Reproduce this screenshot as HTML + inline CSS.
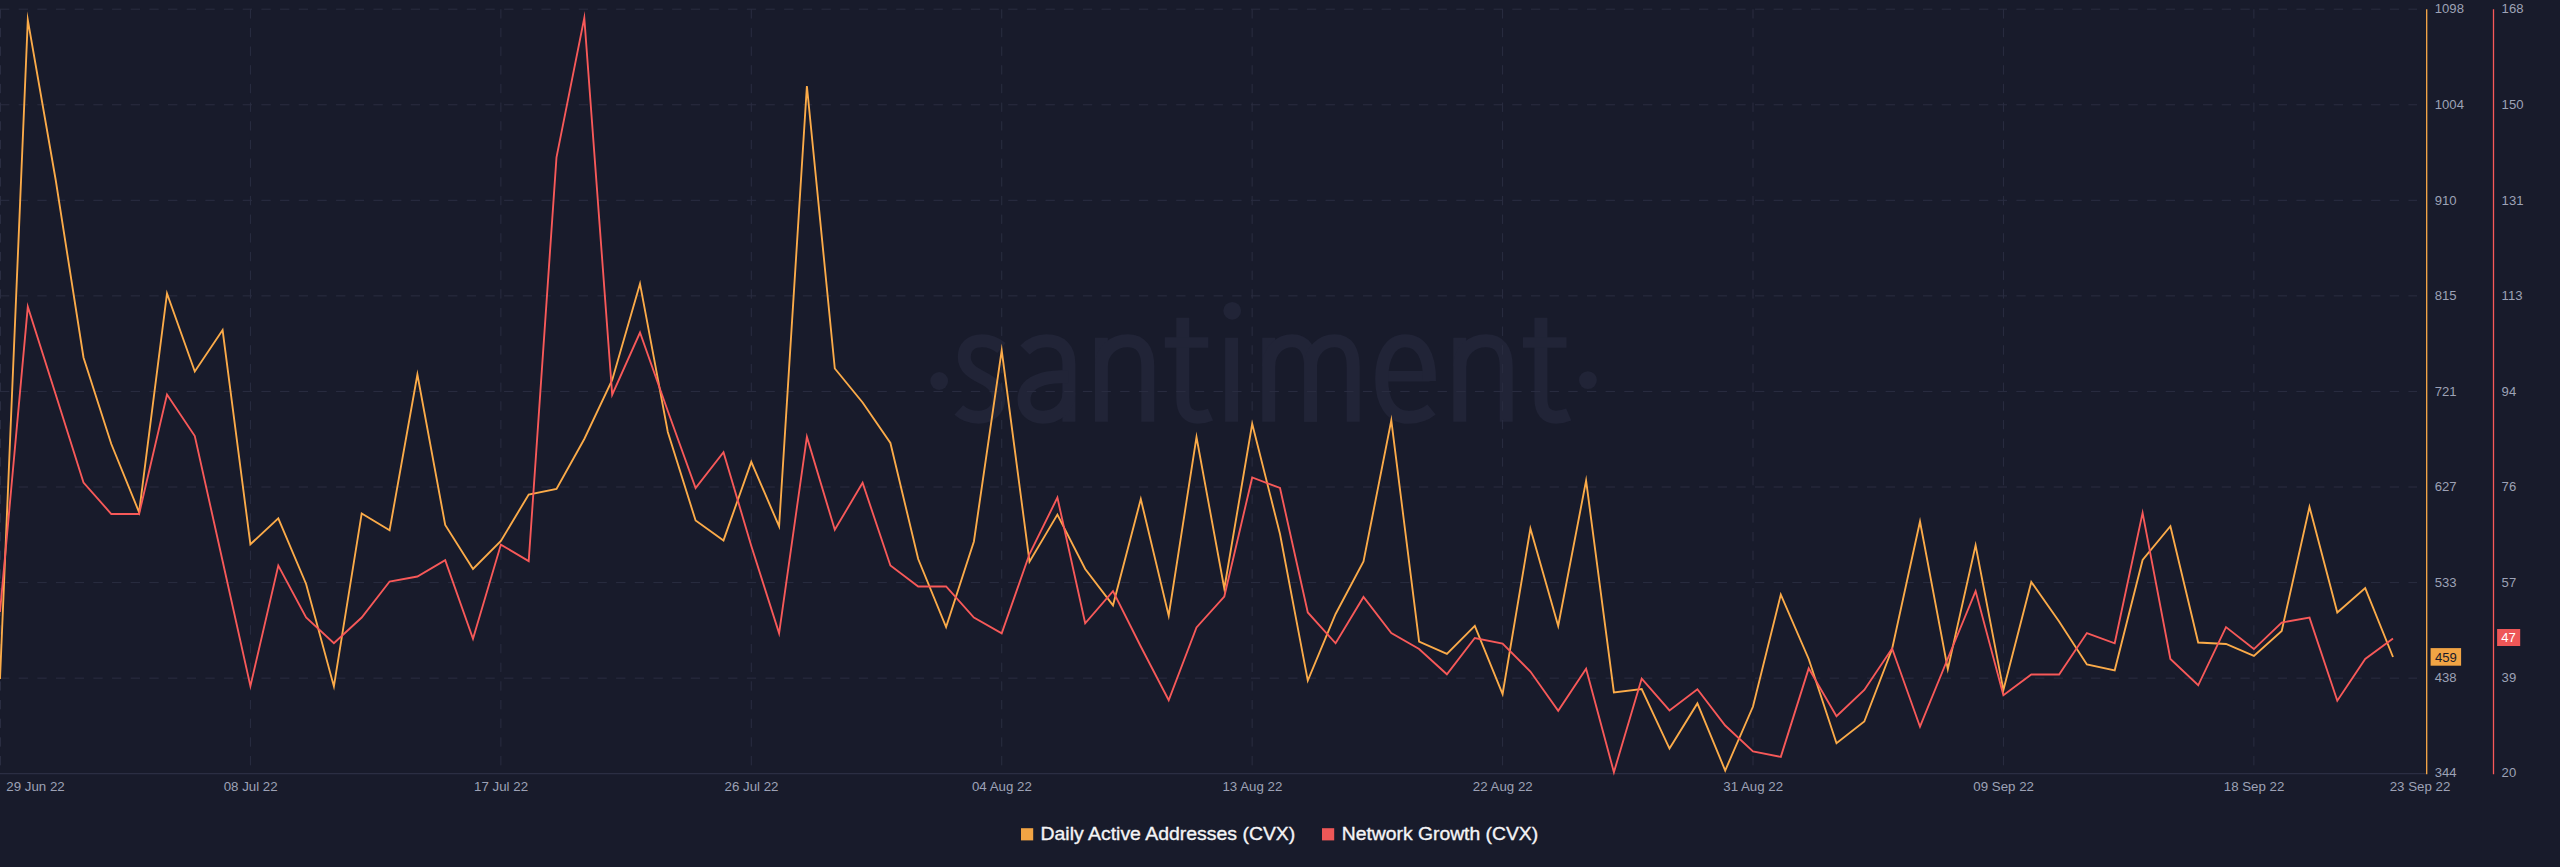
<!DOCTYPE html><html><head><meta charset="utf-8"><title>Santiment chart</title>
<style>html,body{margin:0;padding:0;background:#181b2b;}body{width:2560px;height:867px;overflow:hidden;}svg{display:block;}text{font-family:"Liberation Sans",sans-serif;}</style></head><body>
<svg width="2560" height="867" viewBox="0 0 2560 867">
<rect x="0" y="0" width="2560" height="867" fill="#181b2b"/>
<g id="wm" fill="none" stroke="#212437" stroke-width="13" stroke-linecap="butt" stroke-linejoin="round">
<path d="M1001.5,348 C996,343.5 990,340.75 982,340.75 C971,340.75 964.3,347 964.3,357 C964.3,368 973,373 982,377.5 C992,382.5 998.7,388 998.7,399 C998.7,410 990,417.2 978.5,417.2 C970.5,417.2 963.5,414.2 958.8,410"/>
<path d="M1025,350 C1030.5,344.5 1038,340.75 1046.5,340.75 C1061,340.75 1068.9,349 1068.9,364 V421.7"/>
<path d="M1068.9,376.5 C1058,376.5 1050,377 1043,379 C1031,382.5 1024,389 1024,399.5 C1024,410.5 1032,417.2 1043,417.2 C1056,417.2 1068.9,408 1068.9,393"/>
<path d="M1101.4,421.7 V337.8"/><path d="M1101.4,366 C1101.4,351 1113.5,340.75 1127.4,340.75 C1141.3,340.75 1147.8,350 1147.8,367 V421.7"/>
<path d="M1182.8,317.8 V398 C1182.8,412 1188.8,417.2 1197.8,417.2 C1202.2,417.2 1206.8,416.2 1210.5,414.6"/><path d="M1164.8,342.5 H1208.3" stroke-width="10.4"/>
<path d="M1231.6,337.8 V421.7"/>
<path d="M1268.7,421.7 V337.8"/><path d="M1268.7,366 C1268.7,351 1279.6,340.75 1292.2,340.75 C1304.7,340.75 1310.6,350 1310.6,367 V421.7"/>
<path d="M1310.6,366 C1310.6,351 1321.7,340.75 1334.5,340.75 C1347.2,340.75 1353.2,350 1353.2,367 V421.7"/>
<path d="M1310.6,421.7 V362"/>
<path d="M1381.7,376.2 H1429.5" stroke-width="10.5"/>
<path d="M1429.5,381 C1429.8,355 1421,340.75 1405,340.75 C1390,340.75 1381.7,357 1381.7,379 C1381.7,402 1391,417.25 1408.5,417.25 C1418,417.25 1426,414 1431.5,409.5"/>
<path d="M1459.8,421.7 V337.8"/><path d="M1459.8,366 C1459.8,351 1471.9,340.75 1485.8,340.75 C1499.7,340.75 1506.2,350 1506.2,367 V421.7"/>
<path d="M1540.9,317.8 V398 C1540.9,412 1546.9,417.2 1555.9,417.2 C1560.4,417.2 1564.9,416.2 1568.7,414.6"/><path d="M1522.9,342.5 H1566.5" stroke-width="10.4"/>
</g>
<g fill="#212437"><circle cx="939.2" cy="381" r="8.9"/><circle cx="1232.2" cy="310.8" r="8.9"/><circle cx="1587.9" cy="380.1" r="8.9"/></g>
<g stroke="#2a2d41" stroke-width="1" stroke-dasharray="9.335 9.335" fill="none">
<line x1="0" y1="9.20" x2="2417" y2="9.20"/>
<line x1="0" y1="104.76" x2="2417" y2="104.76"/>
<line x1="0" y1="200.32" x2="2417" y2="200.32"/>
<line x1="0" y1="295.89" x2="2417" y2="295.89"/>
<line x1="0" y1="391.45" x2="2417" y2="391.45"/>
<line x1="0" y1="487.01" x2="2417" y2="487.01"/>
<line x1="0" y1="582.58" x2="2417" y2="582.58"/>
<line x1="0" y1="678.14" x2="2417" y2="678.14"/>
<line x1="0.50" y1="9.20" x2="0.50" y2="773.70"/>
<line x1="250.43" y1="9.20" x2="250.43" y2="773.70"/>
<line x1="500.86" y1="9.20" x2="500.86" y2="773.70"/>
<line x1="751.29" y1="9.20" x2="751.29" y2="773.70"/>
<line x1="1001.72" y1="9.20" x2="1001.72" y2="773.70"/>
<line x1="1252.15" y1="9.20" x2="1252.15" y2="773.70"/>
<line x1="1502.58" y1="9.20" x2="1502.58" y2="773.70"/>
<line x1="1753.01" y1="9.20" x2="1753.01" y2="773.70"/>
<line x1="2003.44" y1="9.20" x2="2003.44" y2="773.70"/>
<line x1="2253.87" y1="9.20" x2="2253.87" y2="773.70"/>
</g>
<line x1="0" y1="773.7" x2="2426" y2="773.7" stroke="#2b2e43" stroke-width="1.2"/>
<polyline points="0.0,679.0 27.8,19.9 55.7,180.0 83.5,357.5 111.3,444.0 139.1,512.3 167.0,293.4 194.8,371.5 222.6,330.1 250.4,544.3 278.3,518.4 306.1,584.0 333.9,686.4 361.7,513.4 389.6,530.3 417.4,374.6 445.2,525.0 473.0,568.9 500.9,541.0 528.7,494.5 556.5,489.0 584.3,439.0 612.2,380.0 640.0,283.7 667.8,432.0 695.6,520.5 723.5,540.4 751.3,461.9 779.1,526.4 806.9,86.0 834.8,368.5 862.6,402.5 890.4,443.0 918.2,559.0 946.1,627.0 973.9,541.5 1001.7,350.4 1029.5,561.7 1057.4,514.6 1085.2,569.0 1113.0,605.3 1140.8,499.1 1168.7,615.7 1196.5,437.2 1224.3,588.5 1252.2,423.8 1280.0,534.0 1307.8,680.6 1335.6,614.0 1363.5,561.5 1391.3,420.4 1419.1,641.5 1446.9,653.9 1474.8,625.9 1502.6,694.0 1530.4,528.6 1558.2,626.0 1586.1,480.6 1613.9,692.4 1641.7,689.1 1669.5,748.6 1697.4,703.4 1725.2,770.5 1753.0,706.5 1780.8,594.6 1808.7,659.0 1836.5,743.3 1864.3,721.5 1892.1,649.0 1920.0,521.5 1947.8,669.1 1975.6,545.3 2003.4,690.1 2031.3,582.0 2059.1,621.5 2086.9,664.5 2114.7,670.3 2142.6,560.0 2170.4,526.2 2198.2,642.5 2226.0,644.0 2253.9,655.9 2281.7,631.0 2309.5,506.9 2337.3,612.5 2365.2,588.1 2393.0,657.0" fill="none" stroke="#fbab49" stroke-width="1.87" stroke-linejoin="miter" stroke-miterlimit="10"/>
<polyline points="0.0,612.0 27.8,306.8 55.7,394.5 83.5,482.5 111.3,514.0 139.1,514.0 167.0,394.6 194.8,436.0 222.6,561.0 250.4,686.1 278.3,565.6 306.1,617.5 333.9,643.3 361.7,617.5 389.6,581.5 417.4,576.5 445.2,560.1 473.0,638.8 500.9,544.6 528.7,561.1 556.5,157.3 584.3,17.9 612.2,394.7 640.0,332.5 667.8,411.0 695.6,488.1 723.5,452.2 751.3,546.0 779.1,633.4 806.9,436.9 834.8,529.8 862.6,482.8 890.4,565.5 918.2,586.5 946.1,586.5 973.9,617.5 1001.7,633.4 1029.5,554.0 1057.4,497.6 1085.2,623.3 1113.0,591.1 1140.8,646.5 1168.7,700.3 1196.5,627.5 1224.3,596.5 1252.2,477.5 1280.0,488.0 1307.8,612.5 1335.6,643.3 1363.5,596.9 1391.3,633.0 1419.1,649.0 1446.9,674.3 1474.8,638.0 1502.6,643.5 1530.4,671.5 1558.2,710.8 1586.1,668.8 1613.9,772.2 1641.7,678.6 1669.5,710.4 1697.4,689.2 1725.2,725.5 1753.0,751.5 1780.8,756.9 1808.7,668.4 1836.5,716.2 1864.3,690.0 1892.1,648.5 1920.0,726.7 1947.8,658.5 1975.6,591.1 2003.4,695.3 2031.3,674.5 2059.1,674.5 2086.9,633.1 2114.7,643.3 2142.6,512.9 2170.4,659.0 2198.2,685.3 2226.0,627.1 2253.9,649.1 2281.7,622.5 2309.5,617.6 2337.3,700.7 2365.2,659.0 2393.0,638.5" fill="none" stroke="#f75959" stroke-width="1.87" stroke-linejoin="miter" stroke-miterlimit="10"/>
<line x1="2426.7" y1="9.20" x2="2426.7" y2="774.2" stroke="#fbab49" stroke-width="1.3"/>
<line x1="2493.5" y1="9.20" x2="2493.5" y2="774.2" stroke="#f75959" stroke-width="1.3"/>
<g fill="#9da2b6" font-size="13.1">
<text x="2434.8" y="13.45">1098</text>
<text x="2434.8" y="109.01">1004</text>
<text x="2434.8" y="204.57">910</text>
<text x="2434.8" y="300.14">815</text>
<text x="2434.8" y="395.70">721</text>
<text x="2434.8" y="491.26">627</text>
<text x="2434.8" y="586.83">533</text>
<text x="2434.8" y="682.39">438</text>
<text x="2434.8" y="777.05">344</text>
<text x="2501.6" y="13.45">168</text>
<text x="2501.6" y="109.01">150</text>
<text x="2501.6" y="204.57">131</text>
<text x="2501.6" y="300.14">113</text>
<text x="2501.6" y="395.70">94</text>
<text x="2501.6" y="491.26">76</text>
<text x="2501.6" y="586.83">57</text>
<text x="2501.6" y="682.39">39</text>
<text x="2501.6" y="777.05">20</text>
<text x="6.3" y="790.9" font-size="13.3">29 Jun 22</text>
<text x="250.63" y="790.9" font-size="13.3" text-anchor="middle">08 Jul 22</text>
<text x="501.06" y="790.9" font-size="13.3" text-anchor="middle">17 Jul 22</text>
<text x="751.49" y="790.9" font-size="13.3" text-anchor="middle">26 Jul 22</text>
<text x="1001.92" y="790.9" font-size="13.3" text-anchor="middle">04 Aug 22</text>
<text x="1252.35" y="790.9" font-size="13.3" text-anchor="middle">13 Aug 22</text>
<text x="1502.78" y="790.9" font-size="13.3" text-anchor="middle">22 Aug 22</text>
<text x="1753.21" y="790.9" font-size="13.3" text-anchor="middle">31 Aug 22</text>
<text x="2003.64" y="790.9" font-size="13.3" text-anchor="middle">09 Sep 22</text>
<text x="2254.07" y="790.9" font-size="13.3" text-anchor="middle">18 Sep 22</text>
<text x="2420" y="790.9" font-size="13.3" text-anchor="middle">23 Sep 22</text>
</g>
<rect x="2430.6" y="648.1" width="30.5" height="17.6" fill="#f1a444"/>
<text x="2434.9" y="661.7" font-size="13.1" fill="#181b2b">459</text>
<rect x="2497.1" y="629" width="23.1" height="17" fill="#ee5757"/>
<text x="2501.3" y="642.3" font-size="13.1" fill="#ffffff">47</text>
<rect x="1021" y="828.2" width="12.2" height="12.2" fill="#f1a444"/>
<text id="lg1" x="1040.5" y="840.3" font-size="18.3" fill="#f4f4f6" stroke="#f4f4f6" stroke-width="0.35" textLength="254.8" lengthAdjust="spacingAndGlyphs">Daily Active Addresses (CVX)</text>
<rect x="1322" y="828.2" width="12.2" height="12.2" fill="#ee5757"/>
<text id="lg2" x="1341.7" y="840.3" font-size="18.3" fill="#f4f4f6" stroke="#f4f4f6" stroke-width="0.35" textLength="196.5" lengthAdjust="spacingAndGlyphs">Network Growth (CVX)</text>
</svg></body></html>
